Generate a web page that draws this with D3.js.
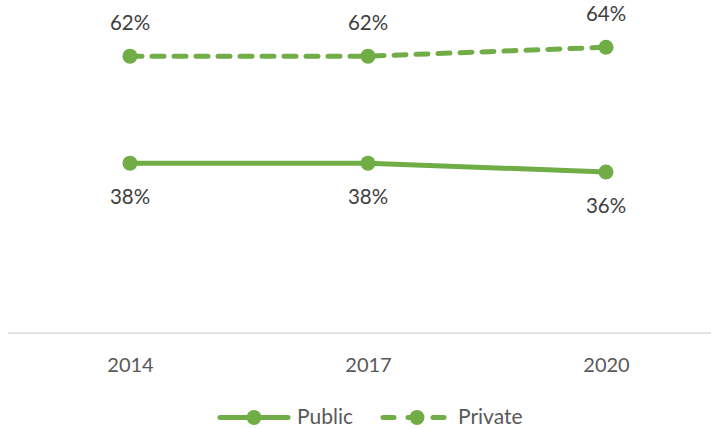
<!DOCTYPE html>
<html><head><meta charset="utf-8">
<script src="https://cdn.jsdelivr.net/npm/d3@7"></script>
<style>body{margin:0;background:#fff}svg{display:block}text{font-family:Lato,"Liberation Sans",sans-serif}</style>
</head><body>
<svg id="c" width="711" height="429"></svg>
<script>
const years = ["2014", "2017", "2020"];
const publicVals = [38, 38, 36];
const privateVals = [62, 62, 64];
const seriesNames = ["Public", "Private"];

const color = "#70ad47";
const svg = d3.select("#c");
const x = d3.scalePoint().domain(years).range([130, 606]);
const y = d3.scaleLinear().domain([0, 70]).range([332.5, 20.5]);

// axis baseline
svg.append("line").attr("x1", 8).attr("x2", 711).attr("y1", 333).attr("y2", 333)
  .attr("stroke", "#d9d9d9").attr("stroke-width", 1.5);

const xAxis = d3.axisBottom(x).tickSize(0).tickPadding(0);
const gx = svg.append("g").attr("transform", "translate(0,358)").call(xAxis);
gx.select(".domain").remove();
gx.selectAll("text").attr("font-size", 20).attr("fill", "#595959").attr("dy", "0.71em")
  .style("font-family", 'Lato,"Liberation Sans",sans-serif');

const line = d3.line().x((d, i) => x(years[i])).y(d => y(d));

function drawSeries(vals, dashed, above) {
  svg.append("path").datum(vals).attr("d", line).attr("fill", "none")
    .attr("stroke", color).attr("stroke-width", 5)
    .attr("stroke-linecap", dashed ? "round" : "butt")
    .attr("stroke-dasharray", dashed ? "12,10" : null);
  svg.selectAll(null).data(vals).enter().append("circle")
    .attr("cx", (d, i) => x(years[i])).attr("cy", d => y(d)).attr("r", 7.5).attr("fill", color);
  svg.selectAll(null).data(vals).enter().append("text")
    .attr("x", (d, i) => x(years[i])).attr("y", d => y(d) + (above ? -26 : 41))
    .attr("text-anchor", "middle").attr("font-size", 20.5).attr("fill", "#404040")
    .text(d => d + "%");
}
drawSeries(privateVals, true, true);
drawSeries(publicVals, false, false);

// legend
const lg = svg.append("g");
const legendItems = [
  {name: seriesNames[0], x1: 220, x2: 288, tx: 297, dashed: false},
  {name: seriesNames[1], x1: 383, x2: 444, tx: 458, dashed: true}
];
legendItems.forEach(it => {
  lg.append("line").attr("x1", it.x1).attr("x2", it.x2).attr("y1", 417.5).attr("y2", 417.5)
    .attr("stroke", color).attr("stroke-width", 5)
    .attr("stroke-linecap", "round")
    .attr("stroke-dasharray", it.dashed ? "11,14" : null);
  lg.append("circle").attr("cx", it.dashed ? 417 : 254).attr("cy", 417.5).attr("r", 7.5).attr("fill", color);
  lg.append("text").attr("x", it.tx).attr("y", 424).attr("font-size", 21).attr("fill", "#595959").text(it.name);
});
</script>
</body></html>
